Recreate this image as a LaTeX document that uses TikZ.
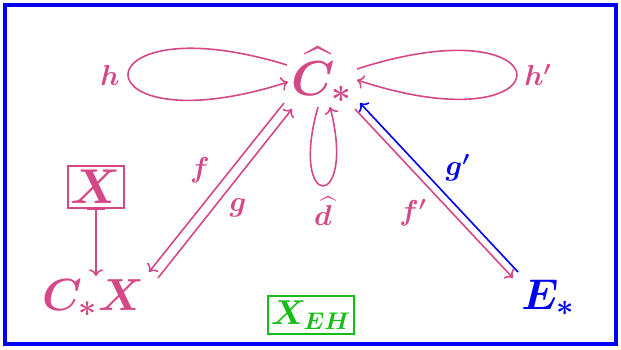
\documentclass[tikz,border=0pt]{standalone}
\usepackage{fix-cm}
\usepackage{amsmath, amssymb}
\usetikzlibrary{arrows.meta,calc}
\definecolor{pinkish}{RGB}{212,72,135}
\definecolor{eblue}{RGB}{0,0,245}
\definecolor{ehgreen}{RGB}{20,190,20}
\tikzset{
  >=To,
  pk/.style={draw=pinkish, line width=0.8pt},
  bl/.style={draw=eblue, line width=0.8pt},
  obj/.style={text=pinkish, inner sep=0pt, font=\fontsize{24.5}{29}\selectfont\boldmath},
  lab/.style={text=pinkish, inner sep=1pt, font=\fontsize{14.4}{17}\selectfont\boldmath},
  frame/.style={draw=eblue, line width=2.2pt},
}

\begin{document}
\begin{tikzpicture}[x=0.5pt,y=-0.5pt]
\useasboundingbox (0,0) rectangle (621,349);
% outer frame
\draw[frame] (5,5) rectangle (616,344);
% objects
\node[obj] (Chat) at (322,75) {$\widehat{C}_*$};
\node[obj, font=\fontsize{22.5}{27}\selectfont\boldmath] (CX) at (93,298) {$C_*X$};
\node[obj, text=eblue, font=\fontsize{21.5}{26}\selectfont\boldmath] (E) at (548,298) {$E_*$};
\node[obj, draw=pinkish, line width=0.75pt, minimum width=28pt, minimum height=21pt,
  font=\fontsize{24.5}{29}\selectfont\boldmath] (Xb) at (96,187) {$X$};
\node[obj, text=ehgreen, draw=ehgreen, line width=0.75pt, minimum width=43pt, minimum height=19pt,
  font=\fontsize{17.28}{20}\selectfont\boldmath] (XEH) at (311,315) {$X_{EH}$};
% self loops on C hat
\draw[pk,->] ([shift={(-35,-10)}]Chat.center) .. controls +(-212,-65) and +(-213,68) .. ([shift={(-34,7)}]Chat.center);
\draw[pk,->] ([shift={(35,-6)}]Chat.center) .. controls +(213,-69) and +(213,70) .. ([shift={(35,5)}]Chat.center);
\draw[pk,->] ([shift={(-4,32)}]Chat.center) .. controls +(-30,105) and +(27,105) .. ([shift={(8,32)}]Chat.center);
\node[lab] (h) at (110,75) {$h$};
\node[lab] (hp) at (538,75) {$h'$};
\node[lab] (dhat) at (323,211) {$\widehat{d}$};
% left pair
\draw[pk,->] ([shift={(-38,28)}]Chat.center) -- ([shift={(56,-26)}]CX.center);
\draw[pk,->] ([shift={(65,-20)}]CX.center) -- ([shift={(-30,34)}]Chat.center);
\node[lab] (f) at (200,170) {$f$};
\node[lab] (g) at (238,208) {$g$};
% right pair
\draw[pk,->] ([shift={(33,34)}]Chat.center) -- ([shift={(-35,-20)}]E.center);
\draw[bl,->] ([shift={(-30,-26)}]E.center) -- ([shift={(38,28)}]Chat.center);
\node[lab] (fp) at (413,213) {$f'$};
\node[lab, text=eblue] (gp) at (458,168) {$g'$};
% X to C_*X
\draw[pk,{Bar[width=9pt]}->] (Xb.south) -- ([shift={(3,-22)}]CX.center);
\end{tikzpicture}
\end{document}
